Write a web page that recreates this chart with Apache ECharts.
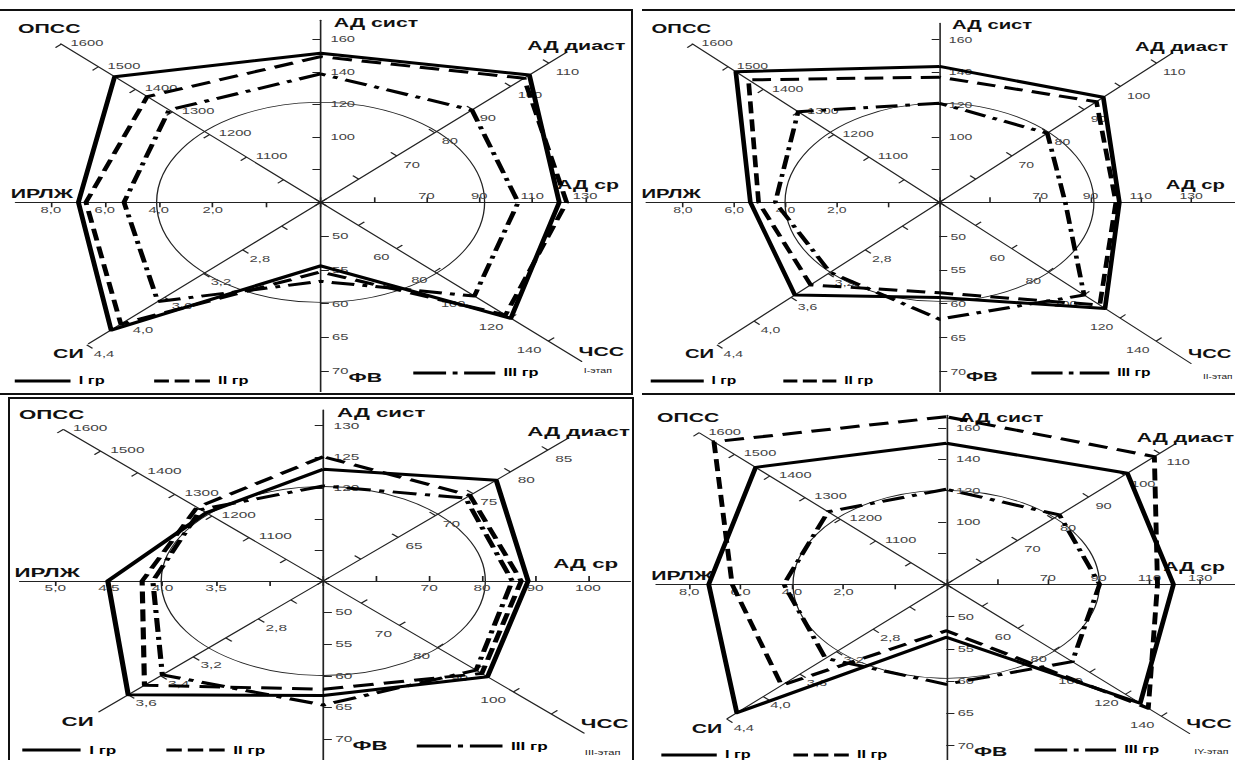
<!DOCTYPE html>
<html>
<head>
<meta charset="utf-8">
<title>Гемодинамика по этапам</title>
<script src="https://cdn.jsdelivr.net/npm/echarts@6.0.0/dist/echarts.min.js"></script>
<style>
body { margin: 0; width: 1235px; height: 760px; background: #fff; position: relative; overflow: hidden; }
.pane { position: absolute; transform-origin: 0 0; }
.rule { position: absolute; background: #111; }
</style>
</head>
<body>
<!-- рамки -->
<div class="rule" style="left:0;top:9px;width:633px;height:2px"></div>
<div class="rule" style="left:642px;top:9px;width:593px;height:2px"></div>
<div class="rule" style="left:631px;top:9px;width:2px;height:386px"></div>
<div class="rule" style="left:0;top:393px;width:633px;height:2px"></div>
<div class="rule" style="left:642px;top:393px;width:593px;height:2px"></div>
<div class="rule" style="left:8px;top:397px;width:626px;height:2px"></div>
<div class="rule" style="left:8px;top:397px;width:2px;height:363px"></div>
<div class="rule" style="left:632px;top:397px;width:2px;height:363px"></div>
<div id="p1" class="pane"></div>
<div id="p2" class="pane"></div>
<div id="p3" class="pane"></div>
<div id="p4" class="pane"></div>
<script>
// оси по часовой стрелке, начиная сверху
var axisNames = ['АД сист', 'АД диаст', 'АД ср', 'ЧСС', 'ФВ', 'СИ', 'ИРЛЖ', 'ОПСС'];
var groups = ['I гр', 'II гр', 'III гр'];
var stages = ['I-этап', 'II-этап', 'III-этап', 'IY-этап'];

// значения: АД сист, АД диаст, АД ср, ЧСС, ФВ, СИ, ИРЛЖ, ОПСС
var stage1I   = [151.4, 104.9, 120.2, 120.2, 54.4, 4.15, 6.98, 1456];
var stage1II  = [149.3, 103.5, 123.0, 117.4, 55.3, 4.05, 6.70, 1368];
var stage1III = [138.7, 89.8, 104.7, 101.0, 56.7, 3.67, 5.29, 1309];
var stage2I   = [143.3, 95.3, 101.5, 111.7, 59.1, 3.56, 5.37, 1478];
var stage2II  = [136.7, 93.4, 100.1, 108.8, 58.4, 3.39, 5.05, 1442];
var stage2III = [120.7, 79.8, 80.0, 100.1, 62.3, 3.18, 4.40, 1301];
var stage3I   = [123.0, 78.1, 88.7, 93.2, 63.1, 3.60, 4.51, 1215];
var stage3II  = [125.0, 74.6, 87.4, 91.7, 62.1, 3.50, 4.19, 1240];
var stage3III = [120.3, 74.0, 85.7, 90.2, 64.6, 3.39, 4.09, 1230];
var stage4I   = [150.4, 100.9, 119.5, 128.2, 53.2, 4.29, 7.24, 1440];
var stage4II  = [167.4, 108.5, 113.2, 132.7, 52.2, 3.80, 6.33, 1558];
var stage4III = [120.9, 81.8, 90.4, 90.3, 60.5, 3.32, 4.32, 1235];

// подписи делений
var ticksStd = [[100, 120, 140, 160], [70, 80, 90, 100, 110], [70, 90, 110, 130], [60, 80, 100, 120, 140],
  [50, 55, 60, 65, 70], [2.8, 3.2, 3.6, 4.0, 4.4], [2, 4, 6, 8], [1100, 1200, 1300, 1400, 1500, 1600]];
var ticksSt3 = [[120, 125, 130], [65, 70, 75, 80, 85], [70, 80, 90, 100], [70, 80, 90, 100],
  [50, 55, 60, 65, 70], [2.8, 3.2, 3.4, 3.6], [3.5, 4.0, 4.5, 5.0], [1100, 1200, 1300, 1400, 1500, 1600]];
var axisDecimals = [0, 0, 0, 0, 0, 1, 1, 0];

// шкалы: значение в центре, шаг, последнее деление
var axisMinStd  = [60, 50, 30, 20, 45, 2, -2, 900];
var axisStepStd = [20, 10, 20, 20, 5, 0.4, 2, 100];
var axisLastStd = [160, 110, 130, 140, 70, 4.4, 8, 1600];
var axisMinSt3  = [105, 55, 50, 50, 45, 2.4, 2.5, 900];
var axisStepSt3 = [5, 5, 10, 10, 5, 0.2, 0.5, 100];
var axisLastSt3 = [130, 85, 100, 110, 70, 3.6, 5, 1600];
// значение на расстоянии 100px от центра
var scaleAt100 = [
  [121.3, 80.5, 92.0, 81.1, 59.8, 3.19, 4.08, 1213],
  [121.3, 80.5, 92.0, 81.1, 59.8, 3.19, 4.08, 1213],
  [121.1, 71.2, 82.4, 81.9, 60.8, 3.146, 4.1, 1226.6],
  [124.1, 82.4, 94.2, 84.3, 60.5, 3.26, 4.34, 1226.5]
];

var panelData = [
  {groups: [stage1I, stage1II, stage1III], min: axisMinStd, step: axisStepStd, last: axisLastStd, ticks: ticksStd},
  {groups: [stage2I, stage2II, stage2III], min: axisMinStd, step: axisStepStd, last: axisLastStd, ticks: ticksStd},
  {groups: [stage3I, stage3II, stage3III], min: axisMinSt3, step: axisStepSt3, last: axisLastSt3, ticks: ticksSt3},
  {groups: [stage4I, stage4II, stage4III], min: axisMinStd, step: axisStepStd, last: axisLastStd, ticks: ticksStd}
];

// раскладка (исходная картинка растянута по горизонтали)
var panelBox = [
  {left: 0,   top: 0,   width: 386, height: 392, stretch: 1.64,  cx: 195.5, cy: 202.3, circle: 100},
  {left: 632, top: 0,   width: 387, height: 392, stretch: 1.56,  cx: 197.1, cy: 202.3, circle: 99},
  {left: 0,   top: 392, width: 369, height: 368, stretch: 1.715, cx: 188.5, cy: 189,   circle: 94.5},
  {left: 632, top: 392, width: 370, height: 368, stretch: 1.63,  cx: 192.8, cy: 192.3, circle: 94}
];
var axisLen = [
  [182, 212, 189, 225, 190, 200, 186, 224],
  [179, 211, 190, 228, 190, 200, 188, 224],
  [171, 202, 179, 215, 179, 185, 177, 214],
  [169, 199, 178, 211, 176, 190, 178, 214]
];
var legendPos = [
  [[9, 376], [94, 376], [252, 368]],
  [[12, 376], [97, 376], [256, 368]],
  [[13, 353], [97, 353], [243, 349]],
  [[18, 358], [99, 358], [247, 353]]
];
var stagePos = [[356, 367], [366, 373], [341, 357], [345, 356]];

var dirAngle = [90, 45, 0, -45, -90, -135, 180, 135];
var labelPlace = [
  {margin: -6, align: 'left', verticalAlign: 'middle'},
  {margin: -6, align: 'left', verticalAlign: 'top'},
  {margin: 2, align: 'center', verticalAlign: 'bottom'},
  {margin: -6, align: 'right', verticalAlign: 'top'},
  {margin: 7, align: 'left', verticalAlign: 'middle'},
  {margin: 6, align: 'left', verticalAlign: 'top'},
  {margin: 3, align: 'center', verticalAlign: 'top'},
  {margin: -8, align: 'left', verticalAlign: 'top'}
];
// на III этапе подписи АД ср стоят под осью
var labelBelowRight = {margin: -3, align: 'center', verticalAlign: 'top'};
var namePlace = [
  {gap: -2, align: 'left', verticalAlign: 'middle', padding: [0, 0, 0, 8]},
  {gap: 0, align: 'center', verticalAlign: 'bottom', padding: [0, 0, 0, 12]},
  {gap: -26, align: 'center', verticalAlign: 'bottom', padding: [0, 0, 11, 0]},
  {gap: -14, align: 'left', verticalAlign: 'middle', padding: [0, 0, 0, 8]},
  {gap: null, align: 'left', verticalAlign: 'middle', padding: [0, 0, 0, 17]},
  {gap: 14, align: 'center', verticalAlign: 'middle', padding: [0, 5, 0, 0]},
  {gap: 3, align: 'left', verticalAlign: 'bottom', padding: [0, 0, 2, 0]},
  {gap: 10, align: 'center', verticalAlign: 'bottom', padding: [0, 0, 2, 0]}
];

var lineTypes = ['solid', [12, 6], [14, 5, 3, 5]];
var legendIcons = [
  'path://M0,0H34V3H0Z',
  'path://M0,0H9V3H0Z M12.5,0H21.5V3H12.5Z M25,0H34V3H25Z',
  'path://M0,0H20V3H0Z M24,0H27V3H24Z M31,0H50V3H31Z'
];
var FONT = 'Liberation Sans, Arial, sans-serif';
var ccwOrder = [0, 7, 6, 5, 4, 3, 2, 1]; // порядок осей радара против часовой

function hidden() {
  return {
    axisName: {show: false}, axisLine: {show: false}, axisTick: {show: false},
    axisLabel: {show: false}, splitLine: {show: false}, splitArea: {show: false}
  };
}

function tickFormatter(list, dec) {
  return function (v) {
    for (var i = 0; i < list.length; i++) {
      if (Math.abs(v - list[i]) < 1e-6) {
        return dec ? list[i].toFixed(1).replace('.', ',') : String(list[i]);
      }
    }
    return '';
  };
}

function buildPanel(p) {
  var box = panelBox[p];
  var pd = panelData[p];
  var el = document.getElementById('p' + (p + 1));
  el.style.left = box.left + 'px';
  el.style.top = box.top + 'px';
  el.style.width = box.width + 'px';
  el.style.height = box.height + 'px';
  el.style.transform = 'scaleX(' + box.stretch + ')';
  var chart = echarts.init(el, null, {renderer: 'svg', width: box.width, height: box.height});
  var center = [box.cx, box.cy];
  var radars = [];

  // радар данных
  var dataRadar = hidden();
  dataRadar.center = center;
  dataRadar.radius = 100;
  dataRadar.startAngle = 90;
  dataRadar.splitNumber = 1;
  dataRadar.indicator = ccwOrder.map(function (i) {
    return {name: axisNames[i], min: pd.min[i], max: scaleAt100[p][i]};
  });
  radars.push(dataRadar);

  // окружность
  var ring = hidden();
  ring.center = center;
  ring.radius = box.circle;
  ring.shape = 'circle';
  ring.splitNumber = 1;
  ring.indicator = [{name: '', min: 0, max: 1}];
  ring.splitLine = {show: true, lineStyle: {color: '#222', width: 0.8}};
  radars.push(ring);

  for (var i = 0; i < 8; i++) {
    var span = pd.last[i] - pd.min[i];
    var tickR = span / (scaleAt100[p][i] - pd.min[i]) * 100;

    // ось и её название
    var gap = namePlace[i].gap;
    if (gap === null) {
      // ФВ стоит справа от последней подписи, чуть ниже
      gap = tickR + 6 - axisLen[p][i];
    }
    var ax = hidden();
    ax.center = center;
    ax.radius = axisLen[p][i];
    ax.startAngle = dirAngle[i];
    ax.splitNumber = 1;
    ax.nameGap = gap;
    ax.indicator = [{name: axisNames[i], min: 0, max: 1}];
    ax.axisLine = {show: true, lineStyle: {color: '#222', width: 1}};
    ax.axisName = {
      show: true, color: '#111', fontSize: 13, fontWeight: 'bold', fontFamily: FONT,
      align: namePlace[i].align, verticalAlign: namePlace[i].verticalAlign, padding: namePlace[i].padding
    };
    radars.push(ax);

    // деления и подписи
    var lp = (p === 2 && i === 2) ? labelBelowRight : labelPlace[i];
    var tk = hidden();
    tk.center = center;
    tk.radius = tickR;
    tk.startAngle = dirAngle[i];
    tk.splitNumber = Math.round(span / pd.step[i]);
    tk.indicator = [{name: '', min: pd.min[i], max: pd.last[i]}];
    tk.axisTick = {show: true, length: 5, lineStyle: {color: '#222', width: 1}};
    tk.axisLabel = {
      show: true, fontSize: 9, color: '#444', fontFamily: FONT,
      margin: lp.margin, align: lp.align, verticalAlign: lp.verticalAlign,
      formatter: tickFormatter(pd.ticks[i], axisDecimals[i])
    };
    radars.push(tk);
  }

  var series = groups.map(function (g, j) {
    return {
      type: 'radar', radarIndex: 0, symbol: 'none', silent: true, z: 5,
      lineStyle: {color: '#000', width: 3, type: lineTypes[j]},
      itemStyle: {color: '#000'},
      data: [{name: g, value: ccwOrder.map(function (i) { return pd.groups[j][i]; })}]
    };
  });

  var legends = groups.map(function (g, j) {
    return {
      data: [{name: g, icon: legendIcons[j]}],
      left: legendPos[p][j][0], top: legendPos[p][j][1],
      itemWidth: j === 2 ? 50 : 34, itemHeight: 3, padding: 0, selectedMode: false,
      textStyle: {fontSize: 10, fontWeight: 'bold', color: '#000', fontFamily: FONT}
    };
  });

  chart.setOption({
    animation: false,
    title: {
      text: stages[p], left: stagePos[p][0], top: stagePos[p][1], padding: 0,
      textStyle: {fontSize: 6.5, fontWeight: 'normal', color: '#222', fontFamily: FONT}
    },
    legend: legends,
    radar: radars,
    series: series
  });
}

for (var p = 0; p < 4; p++) {
  buildPanel(p);
}
</script>
</body>
</html>
